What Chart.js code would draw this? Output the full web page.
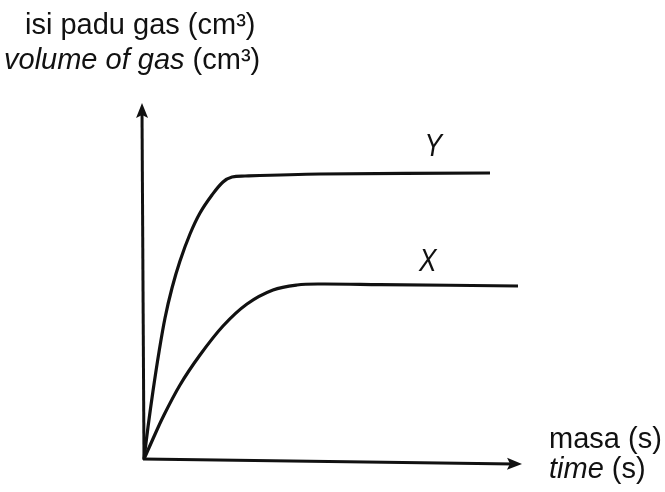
<!DOCTYPE html>
<html>
<head>
<meta charset="utf-8">
<script src="https://cdn.jsdelivr.net/npm/chart.js@4/dist/chart.umd.min.js"></script>
<style>
  html, body { margin: 0; padding: 0; background: #fff; }
  #graph { display: block; }
</style>
</head>
<body>
<canvas id="graph" width="665" height="492"></canvas>
<script>
'use strict';

// curve Y (faster reaction)
const timeY = [0, 1.06, 2.38, 3.97, 5.56, 7.41, 9.52, 12.17, 14.81, 17.99, 20.90, 23.28, 26.72, 46.56, 91.53];
const volumeY = [0, 8.99, 19.10, 30.06, 39.61, 48.03, 55.62, 63.20, 69.10, 74.16, 77.81, 79.21, 79.49, 80.06, 80.34];

// curve X (slower reaction)
const timeX = [0, 2.12, 5.03, 9.52, 14.81, 20.90, 27.25, 34.13, 40.48, 46.56, 62.43, 98.94];
const volumeX = [0, 5.06, 11.80, 20.79, 29.21, 37.36, 43.54, 47.47, 48.88, 49.16, 49.00, 48.60];

// curve name labels, placed in data units
const curveNames = ['Y', 'X'];
const nameTime = [76.5, 75.1];
const nameVolume = [87.4, 55.1];

const INK = '#111';
const FONT = '"Liberation Sans", Arial, sans-serif';

function zip(xs, ys) {
    return xs.map((x, i) => ({ x: x, y: ys[i] }));
}

function arrowHead(ctx, x, y, angle) {
    ctx.save();
    ctx.translate(x, y);
    ctx.rotate(angle);
    ctx.beginPath();
    ctx.moveTo(0, 0);
    ctx.lineTo(-15, -6);
    ctx.lineTo(-12, 0);
    ctx.lineTo(-15, 6);
    ctx.closePath();
    ctx.fill();
    ctx.restore();
}

// ── axes with arrows, drawn under the curves
const axesPlugin = {
    id: 'arrowAxes',
    beforeDatasetsDraw(chart) {
        const { ctx, chartArea: a } = chart;
        ctx.save();
        ctx.strokeStyle = INK;
        ctx.fillStyle = INK;
        ctx.lineWidth = 3;
        // vertical axis
        ctx.beginPath();
        ctx.moveTo(a.left, a.bottom + 1);
        ctx.lineTo(a.left - 2, a.top + 8);
        ctx.stroke();
        arrowHead(ctx, a.left - 2, a.top, -Math.PI / 2 - 0.005);
        // horizontal axis (scan is slightly tilted)
        ctx.beginPath();
        ctx.moveTo(a.left - 1, a.bottom);
        ctx.lineTo(a.right - 8, a.bottom + 5);
        ctx.stroke();
        arrowHead(ctx, a.right, a.bottom + 5, 0.013);
        ctx.restore();
    }
};

// ── texts: axis titles and curve names
const textPlugin = {
    id: 'texts',
    afterDraw(chart) {
        const { ctx, scales } = chart;
        ctx.save();
        ctx.fillStyle = INK;
        ctx.textBaseline = 'alphabetic';
        ctx.textAlign = 'left';

        ctx.font = '29px ' + FONT;
        ctx.fillText('isi padu gas (cm³)', 25, 34);
        ctx.font = 'italic 29px ' + FONT;
        ctx.fillText('volume of gas', 4, 69);
        let w = ctx.measureText('volume of gas ').width;
        ctx.font = '29px ' + FONT;
        ctx.fillText('(cm³)', 4 + w, 69);

        ctx.fillText('masa (s)', 549, 448);
        ctx.font = 'italic 29px ' + FONT;
        ctx.fillText('time', 549, 478);
        w = ctx.measureText('time ').width;
        ctx.font = '29px ' + FONT;
        ctx.fillText('(s)', 549 + w, 478);

        // curve names: tall, narrow hand lettering
        ctx.font = 'italic 31px ' + FONT;
        ctx.textAlign = 'center';
        ctx.textBaseline = 'middle';
        curveNames.forEach((name, i) => {
            ctx.save();
            ctx.translate(scales.x.getPixelForValue(nameTime[i]), scales.y.getPixelForValue(nameVolume[i]));
            ctx.scale(0.85, 1);
            ctx.fillText(name, 0, 0);
            ctx.restore();
        });
        ctx.restore();
    }
};

new Chart(document.getElementById('graph'), {
    type: 'scatter',
    data: {
        datasets: [
            {
                label: 'Y',
                data: zip(timeY, volumeY),
                showLine: true,
                borderColor: INK,
                borderWidth: 3.2,
                pointRadius: 0,
                tension: 0.35,
                clip: false
            },
            {
                label: 'X',
                data: zip(timeX, volumeX),
                showLine: true,
                borderColor: INK,
                borderWidth: 3.2,
                pointRadius: 0,
                tension: 0.35,
                clip: false
            }
        ]
    },
    options: {
        responsive: false,
        animation: false,
        layout: { padding: { left: 144, right: 143, top: 103, bottom: 33 } },
        plugins: {
            legend: { display: false },
            tooltip: { enabled: false }
        },
        scales: {
            x: { type: 'linear', min: 0, max: 100, display: false },
            y: { type: 'linear', min: 0, max: 100, display: false }
        }
    },
    plugins: [axesPlugin, textPlugin]
});
</script>
</body>
</html>
